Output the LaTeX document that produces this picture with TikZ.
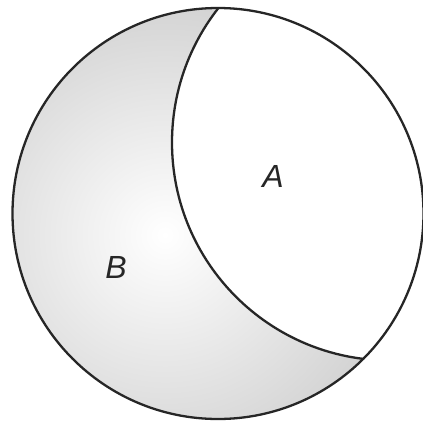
\documentclass[tikz,border=0pt]{standalone}
\usepackage{fontspec}
\setmainfont{Liberation Sans}
\begin{document}
\begin{tikzpicture}[x=1pt,y=-1pt,
  outline/.style={draw=black!85,line width=2.3pt},
  lbl/.style={font=\fontsize{32}{32}\selectfont\itshape,text=black!85}]
\useasboundingbox (0,0) rectangle (423,426);
\coordinate (cB) at (218,213.5);
\coordinate (cA) at (390,142.5);
% crescent shading
\begin{scope}
  \clip (cB) circle (205.5);
  \shade[inner color=white,outer color=black!22] (165,235) circle (300);
  \fill[white] (cA) circle (218);
  \draw[outline] (cA) circle (218);
\end{scope}
\draw[outline] (cB) circle (205.5);
\node[lbl] (a) at (273,176) {A};
\node[lbl] (b) at (116,267) {B};
\end{tikzpicture}
\end{document}
